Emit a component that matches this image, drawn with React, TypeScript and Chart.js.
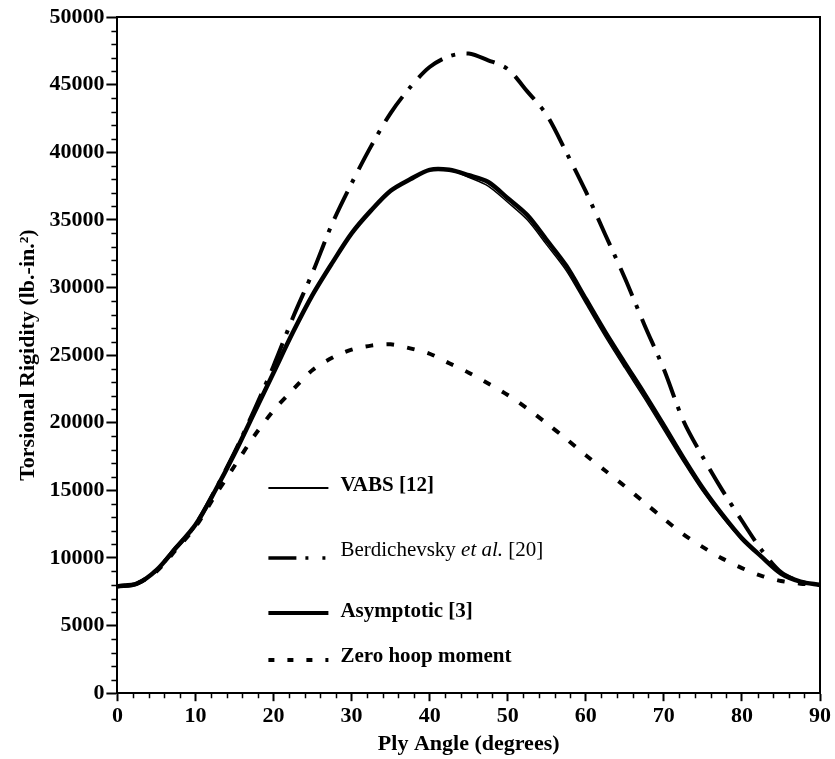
import React, { useEffect, useRef } from "react";
import { Chart, registerables } from "chart.js";

Chart.register(...registerables);

const angles = [0, 2.5, 5, 7.5, 10, 12.5, 15, 17.5, 20, 22.5, 25, 27.5, 30, 32.5, 35, 37.5, 40, 42.5, 45, 47.5, 50, 52.5, 55, 57.5, 60, 62.5, 65, 67.5, 70, 72.5, 75, 77.5, 80, 82.5, 85, 87.5, 90];

const vabs = [7900, 8100, 9100, 10750, 12450, 14950, 17700, 20700, 23700, 26700, 29450, 31800, 34000, 35700, 37150, 38000, 38700, 38700, 38150, 37500, 36300, 35000, 33150, 31250, 28800, 26350, 24050, 21800, 19450, 17100, 14900, 13000, 11350, 10100, 8850, 8250, 8000];

const berdichevsky = [7900, 8100, 9100, 10750, 12450, 15000, 17800, 20900, 24200, 27800, 31100, 34700, 37700, 40450, 42900, 44800, 46300, 47100, 47300, 46800, 46150, 44500, 42750, 40000, 37100, 33900, 30700, 27250, 23950, 20150, 17450, 15000, 12750, 10600, 8950, 8250, 8000];

const asymptotic = [7900, 8100, 9100, 10750, 12450, 14950, 17700, 20700, 23700, 26700, 29450, 31800, 34000, 35700, 37150, 38000, 38700, 38700, 38300, 37800, 36600, 35350, 33500, 31600, 29150, 26700, 24400, 22150, 19800, 17400, 15150, 13200, 11450, 10100, 8850, 8250, 8000];

const zeroHoop = [7900, 8100, 9000, 10600, 12300, 14600, 16800, 19000, 20900, 22450, 23900, 24800, 25400, 25700, 25800, 25500, 25100, 24400, 23700, 22900, 22050, 21050, 19950, 18800, 17600, 16450, 15300, 14100, 12900, 11750, 10800, 9950, 9250, 8680, 8300, 8100, 8000];

const xTicks = [0, 10, 20, 30, 40, 50, 60, 70, 80, 90];
const yTicks = [0, 5000, 10000, 15000, 20000, 25000, 30000, 35000, 40000, 45000, 50000];

const xTitle = "Ply Angle (degrees)";
const yTitle = "Torsional Rigidity (lb.-in.\u00B2)";

const FONT = '"Liberation Serif", "Times New Roman", Times, serif';

const toPts = (ys: number[]) => angles.map((a, i) => ({ x: a, y: ys[i] }));

export default function App() {
  const ref = useRef<HTMLCanvasElement | null>(null);

  useEffect(() => {
    if (!ref.current) return;

    const framePlugin = {
      id: "frameAndMinor",
      afterDraw(chart: any) {
        const { ctx, chartArea, scales } = chart;
        const { left, right, top, bottom } = chartArea;
        ctx.save();
        ctx.strokeStyle = "#000";
        ctx.lineWidth = 2;
        ctx.beginPath();
        ctx.moveTo(left, top);
        ctx.lineTo(right, top);
        ctx.lineTo(right, bottom);
        ctx.stroke();
        // minor ticks
        ctx.lineWidth = 1.5;
        ctx.beginPath();
        for (let v = 1000; v < 50000; v += 1000) {
          if (v % 5000 === 0) continue;
          const y = Math.round(scales.y.getPixelForValue(v)) + 0.5;
          ctx.moveTo(left - 6, y);
          ctx.lineTo(left, y);
        }
        for (let d = 2; d < 90; d += 2) {
          if (d % 10 === 0) continue;
          const x = Math.round(scales.x.getPixelForValue(d)) + 0.5;
          ctx.moveTo(x, bottom);
          ctx.lineTo(x, bottom + 5);
        }
        ctx.stroke();
        ctx.restore();
      },
    };

    const legendPlugin = {
      id: "customLegend",
      afterDraw(chart: any) {
        const { ctx, chartArea } = chart;
        const x0 = chartArea.left + 151;
        const x1 = chartArea.left + 211;
        const tx = chartArea.left + 223;
        const t = chartArea.top;
        ctx.save();
        ctx.strokeStyle = "#000";
        ctx.fillStyle = "#000";
        ctx.textBaseline = "middle";
        ctx.textAlign = "left";
        const line = (y: number, w: number, dash: number[]) => {
          ctx.lineWidth = w;
          ctx.setLineDash(dash);
          ctx.beginPath();
          ctx.moveTo(x0, y);
          ctx.lineTo(x1, y);
          ctx.stroke();
        };
        // VABS
        line(t + 471, 1.8, []);
        ctx.font = `bold 21px ${FONT}`;
        ctx.fillText("VABS [12]", tx, t + 469);
        // Berdichevsky
        line(t + 541, 3.5, [28, 9, 3, 14, 3, 40]);
        ctx.setLineDash([]);
        let x = tx;
        const ty = t + 533;
        ctx.font = `21px ${FONT}`;
        ctx.fillText("Berdichevsky ", x, ty);
        x += ctx.measureText("Berdichevsky ").width;
        ctx.font = `italic 21px ${FONT}`;
        ctx.fillText("et al.", x, ty);
        x += ctx.measureText("et al. ").width;
        ctx.font = `21px ${FONT}`;
        ctx.fillText("[20]", x, ty);
        // Asymptotic
        line(t + 596, 4, []);
        ctx.font = `bold 21px ${FONT}`;
        ctx.fillText("Asymptotic [3]", tx, t + 595);
        // Zero hoop
        line(t + 643, 4, [6, 13]);
        ctx.setLineDash([]);
        ctx.fillText("Zero hoop moment", tx, t + 640);
        ctx.restore();
      },
    };

    const chart = new Chart(ref.current, {
      type: "line",
      data: {
        datasets: [
          {
            label: "VABS [12]",
            data: toPts(vabs),
            borderColor: "#000",
            borderWidth: 1.5,
            pointRadius: 0,
            tension: 0.3,
            fill: false,
          },
          {
            label: "Berdichevsky et al. [20]",
            data: toPts(berdichevsky),
            borderColor: "#000",
            borderWidth: 4,
            borderDash: [30, 10, 4, 11],
            pointRadius: 0,
            tension: 0.3,
            fill: false,
          },
          {
            label: "Asymptotic [3]",
            data: toPts(asymptotic),
            borderColor: "#000",
            borderWidth: 4.5,
            pointRadius: 0,
            tension: 0.3,
            fill: false,
          },
          {
            label: "Zero hoop moment",
            data: toPts(zeroHoop),
            borderColor: "#000",
            borderWidth: 4,
            borderDash: [8, 13],
            pointRadius: 0,
            tension: 0.3,
            fill: false,
          },
        ],
      },
      options: {
        animation: false,
        responsive: true,
        maintainAspectRatio: false,
        layout: { padding: { left: 15, right: 15, top: 17, bottom: 1 } },
        plugins: {
          legend: { display: false },
          tooltip: { enabled: false },
        },
        scales: {
          x: {
            type: "linear",
            min: 0,
            max: 90,
            afterBuildTicks: (scale: any) => {
              scale.ticks = xTicks.map((v) => ({ value: v }));
            },
            ticks: {
              color: "#000",
              font: { family: FONT, size: 22, weight: "bold" },
              padding: 2,
              maxRotation: 0,
              callback: (v: any) => String(v),
            },
            grid: {
              drawOnChartArea: false,
              tickLength: 8,
              tickWidth: 2,
              tickColor: "#000",
            },
            border: { display: true, color: "#000", width: 2 },
            title: {
              display: true,
              text: xTitle,
              color: "#000",
              font: { family: FONT, size: 22, weight: "bold" },
              padding: { top: 0, bottom: 0 },
            },
          },
          y: {
            type: "linear",
            min: 0,
            max: 50000,
            afterBuildTicks: (scale: any) => {
              scale.ticks = yTicks.map((v) => ({ value: v }));
            },
            ticks: {
              color: "#000",
              font: { family: FONT, size: 22, weight: "bold" },
              padding: 2,
              callback: (v: any) => String(v),
            },
            grid: {
              drawOnChartArea: false,
              tickLength: 11,
              tickWidth: 2,
              tickColor: "#000",
            },
            border: { display: true, color: "#000", width: 2 },
            title: {
              display: true,
              text: yTitle,
              color: "#000",
              font: { family: FONT, size: 22, weight: "bold" },
              padding: { top: 0, bottom: 6 },
            },
          },
        },
      },
      plugins: [framePlugin, legendPlugin],
    } as any);

    return () => chart.destroy();
  }, []);

  return (
    <div
      style={{
        position: "fixed",
        left: 0,
        top: 0,
        width: 835,
        height: 759,
        background: "#fff",
      }}
    >
      <canvas ref={ref} />
    </div>
  );
}
